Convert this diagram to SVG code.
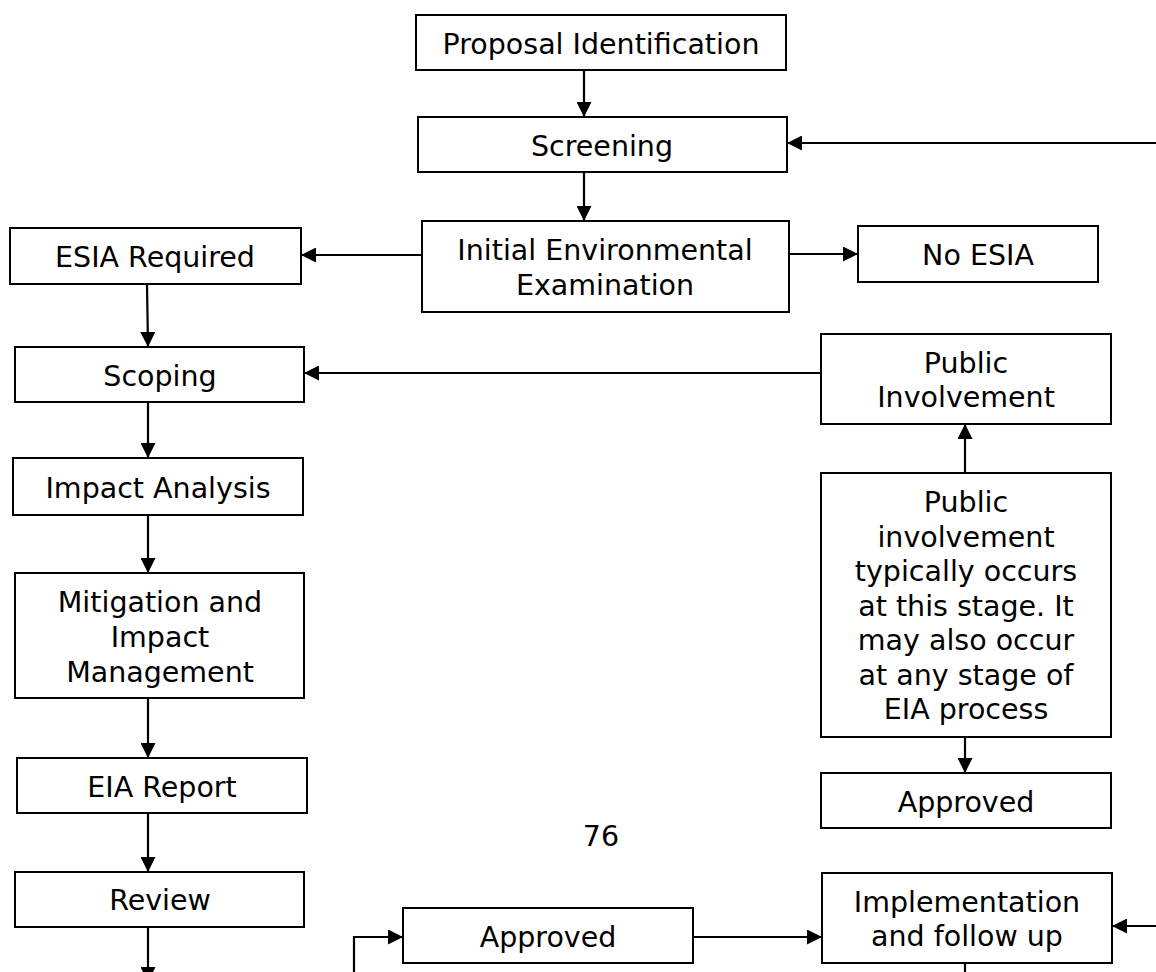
<svg xmlns="http://www.w3.org/2000/svg" width="1156" height="972" viewBox="0 0 1156 972">
<style>
rect.b{fill:#fff;stroke:#000;stroke-width:2}
text{font-family:Verdana,"DejaVu Sans",sans-serif;font-size:28.5px;fill:#000;text-anchor:middle}
.c{fill:none;stroke:#000;stroke-width:2.2}
</style>
<defs>
<marker id="ah" markerWidth="15" markerHeight="15" viewBox="0 0 15 15" refX="15" refY="7.5" orient="auto" markerUnits="userSpaceOnUse">
<path d="M0,0 L15,7.5 L0,15 Z" fill="#000"/>
</marker>
</defs>
<rect width="1156" height="972" fill="#fff"/>
<g id="connectors">
<line class="c" x1="584" y1="70" x2="584" y2="117" marker-end="url(#ah)"/>
<line class="c" x1="1156" y1="143" x2="787" y2="143" marker-end="url(#ah)"/>
<line class="c" x1="584" y1="172" x2="584" y2="221" marker-end="url(#ah)"/>
<line class="c" x1="422" y1="255" x2="301" y2="255" marker-end="url(#ah)"/>
<line class="c" x1="789" y1="254" x2="858" y2="254" marker-end="url(#ah)"/>
<line class="c" x1="147" y1="284" x2="148" y2="347" marker-end="url(#ah)"/>
<line class="c" x1="821" y1="373" x2="304" y2="373" marker-end="url(#ah)"/>
<line class="c" x1="148" y1="402" x2="148" y2="458" marker-end="url(#ah)"/>
<line class="c" x1="148" y1="515" x2="148" y2="573" marker-end="url(#ah)"/>
<line class="c" x1="148" y1="698" x2="148" y2="758" marker-end="url(#ah)"/>
<line class="c" x1="148" y1="813" x2="148" y2="872" marker-end="url(#ah)"/>
<line class="c" x1="148" y1="927" x2="148" y2="982" marker-end="url(#ah)"/>
<line class="c" x1="965" y1="473" x2="965" y2="424" marker-end="url(#ah)"/>
<line class="c" x1="965" y1="737" x2="965" y2="773" marker-end="url(#ah)"/>
<polyline class="c" points="354,975 354,937 403,937" marker-end="url(#ah)"/>
<line class="c" x1="693" y1="937" x2="822" y2="937" marker-end="url(#ah)"/>
<line class="c" x1="1156" y1="926" x2="1112" y2="926" marker-end="url(#ah)"/>
<line class="c" x1="965" y1="963" x2="965" y2="975"/>
</g>
<g id="proposal"><rect class="b" x="416" y="15" width="370" height="55"/><text x="601" y="54">Proposal Identification</text></g>
<g id="screening"><rect class="b" x="418" y="117" width="369" height="55"/><text x="602" y="156">Screening</text></g>
<g id="iee"><rect class="b" x="422" y="221" width="367" height="91"/><text x="605" y="260">Initial Environmental</text><text x="605" y="295">Examination</text></g>
<g id="esia-required"><rect class="b" x="10" y="228" width="291" height="56"/><text x="155" y="267">ESIA Required</text></g>
<g id="no-esia"><rect class="b" x="858" y="226" width="240" height="56"/><text x="978" y="265">No ESIA</text></g>
<g id="scoping"><rect class="b" x="15" y="347" width="289" height="55"/><text x="160" y="386">Scoping</text></g>
<g id="public-involvement"><rect class="b" x="821" y="334" width="290" height="90"/><text x="966" y="373">Public</text><text x="966" y="407">Involvement</text></g>
<g id="impact-analysis"><rect class="b" x="13" y="458" width="290" height="57"/><text x="158" y="498">Impact Analysis</text></g>
<g id="public-note"><rect class="b" x="821" y="473" width="290" height="264"/>
<text x="966" y="512">Public</text>
<text x="966" y="546.5">involvement</text>
<text x="966" y="581">typically occurs</text>
<text x="966" y="615.5">at this stage. It</text>
<text x="966" y="650">may also occur</text>
<text x="966" y="684.5">at any stage of</text>
<text x="966" y="719">EIA process</text>
</g>
<g id="mitigation"><rect class="b" x="15" y="573" width="289" height="125"/><text x="160" y="612">Mitigation and</text><text x="160" y="647">Impact</text><text x="160" y="682">Management</text></g>
<g id="eia-report"><rect class="b" x="17" y="758" width="290" height="55"/><text x="162" y="797">EIA Report</text></g>
<g id="approved-right"><rect class="b" x="821" y="773" width="290" height="55"/><text x="966" y="812">Approved</text></g>
<g id="page-number"><text x="601" y="846">76</text></g>
<g id="review"><rect class="b" x="15" y="872" width="289" height="55"/><text x="160" y="910">Review</text></g>
<g id="approved-mid"><rect class="b" x="403" y="908" width="290" height="55"/><text x="548" y="947">Approved</text></g>
<g id="implementation"><rect class="b" x="822" y="873" width="290" height="90"/><text x="967" y="912">Implementation</text><text x="967" y="946">and follow up</text></g>
</svg>
